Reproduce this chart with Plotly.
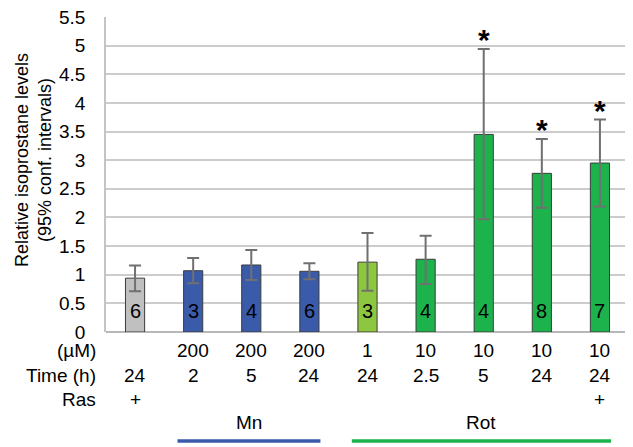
import plotly.graph_objects as go

# ---- data ----
categories = ["c1", "c2", "c3", "c4", "c5", "c6", "c7", "c8", "c9"]
values = [0.94, 1.07, 1.17, 1.06, 1.22, 1.27, 3.45, 2.77, 2.95]
ci_high = [1.16, 1.29, 1.43, 1.20, 1.73, 1.68, 4.94, 3.37, 3.71]
ci_low = [0.71, 0.85, 0.91, 0.92, 0.72, 0.84, 1.97, 2.17, 2.19]
n_counts = ["6", "3", "4", "6", "3", "4", "4", "8", "7"]
conc_labels = ["", "200", "200", "200", "1", "10", "10", "10", "10"]
time_labels = ["24", "2", "5", "24", "24", "2.5", "5", "24", "24"]
ras_labels = ["+", "", "", "", "", "", "", "", "+"]
significant = [False, False, False, False, False, False, True, True, True]
bar_colors = ["#c0c0c0", "#3a5aaa", "#3a5aaa", "#3a5aaa", "#8dc63f",
              "#1db34c", "#1db34c", "#1db34c", "#1db34c"]
row_names = ["(µM)", "Time (h)", "Ras"]
groups = [("Mn", 1, 3, "#3a5aaa"), ("Rot", 4, 8, "#1db34c")]
y_ticks = [0, 0.5, 1, 1.5, 2, 2.5, 3, 3.5, 4, 4.5, 5, 5.5]
y_tick_text = ["0", "0.5", "1", "1.5", "2", "2.5", "3", "3.5", "4", "4.5", "5", "5.5"]

FONT = "Arial, Liberation Sans, sans-serif"
OFF = 8  # page body margin
W, H = 625, 439
L, R, T, B = 98, 4, 9, 115
PW, PH = W - L - R, H - T - B


def py(ypix):
    return (H - B - (ypix - OFF)) / PH


def px(xpix):
    return (xpix - OFF - L) / PW


err_plus = [h - v for h, v in zip(ci_high, values)]
err_minus = [v - l for v, l in zip(values, ci_low)]

fig = go.Figure()
fig.add_trace(go.Bar(
    x=categories, y=values, width=0.33,
    marker=dict(color=bar_colors, line=dict(color="#3c3c3c", width=1)),
    error_y=dict(type="data", array=err_plus, arrayminus=err_minus,
                 color="#707070", thickness=2, width=6),
    hoverinfo="skip",
))

ann = []
for i, c in enumerate(categories):
    ann.append(dict(x=c, y=0.37, xref="x", yref="y", text=n_counts[i],
                    showarrow=False, font=dict(size=20, color="black", family=FONT)))
    if significant[i]:
        ann.append(dict(x=c, y=ci_high[i], xref="x", yref="y", text="<b>*</b>",
                        showarrow=False, yanchor="bottom", yshift=-9,
                        font=dict(size=30, color="black", family=FONT)))
    for row_y, lbls in zip([350, 375, 399], [conc_labels, time_labels, ras_labels]):
        if lbls[i]:
            ann.append(dict(x=c, y=py(row_y), xref="x", yref="paper", text=lbls[i],
                            showarrow=False, xanchor="center", yanchor="middle",
                            font=dict(size=19, color="black", family=FONT)))

for row_y, name in zip([350, 375, 399], row_names):
    ann.append(dict(x=px(98), y=py(row_y), xref="paper", yref="paper", text=name,
                    showarrow=False, xanchor="right", yanchor="middle",
                    font=dict(size=19, color="black", family=FONT)))

shapes = []
for name, i0, i1, col in groups:
    x0, x1 = i0 - 0.27, i1 + 0.19
    shapes.append(dict(type="line", xref="x", yref="paper", x0=x0, x1=x1,
                       y0=py(441), y1=py(441), line=dict(color=col, width=3.5)))
    ann.append(dict(x=(x0 + x1) / 2, y=py(423), xref="x", yref="paper", text=name,
                    showarrow=False, xanchor="center", yanchor="middle",
                    font=dict(size=19, color="black", family=FONT)))

ann.append(dict(x=px(33), y=py(160), xref="paper", yref="paper",
                text="Relative isoprostane levels<br>(95% conf. intervals)",
                textangle=-90, showarrow=False, xanchor="center", yanchor="middle",
                font=dict(size=18, color="black", family=FONT)))

fig.update_layout(
    width=W, height=H,
    margin=dict(l=L, r=R, t=T, b=B, pad=0),
    paper_bgcolor="white", plot_bgcolor="white",
    showlegend=False,
    annotations=ann, shapes=shapes,
    font=dict(family=FONT, size=19, color="black"),
)
fig.update_xaxes(showticklabels=False, showgrid=False, zeroline=False,
                 showline=False, ticks="", automargin=False)
fig.update_yaxes(range=[0, 5.5], tickmode="array", tickvals=y_ticks,
                 ticktext=y_tick_text, showgrid=True, automargin=False,
                 gridcolor="#cccccc", gridwidth=1.5, zeroline=True,
                 zerolinecolor="#b8b8b8", zerolinewidth=1.5,
                 showline=True, linecolor="#c4c4c4", linewidth=1.5,
                 ticks="", ticklabelstandoff=15, ticklabeloverflow="allow",
                 tickfont=dict(size=19, color="black", family=FONT))

fig.write_html("out.html")
